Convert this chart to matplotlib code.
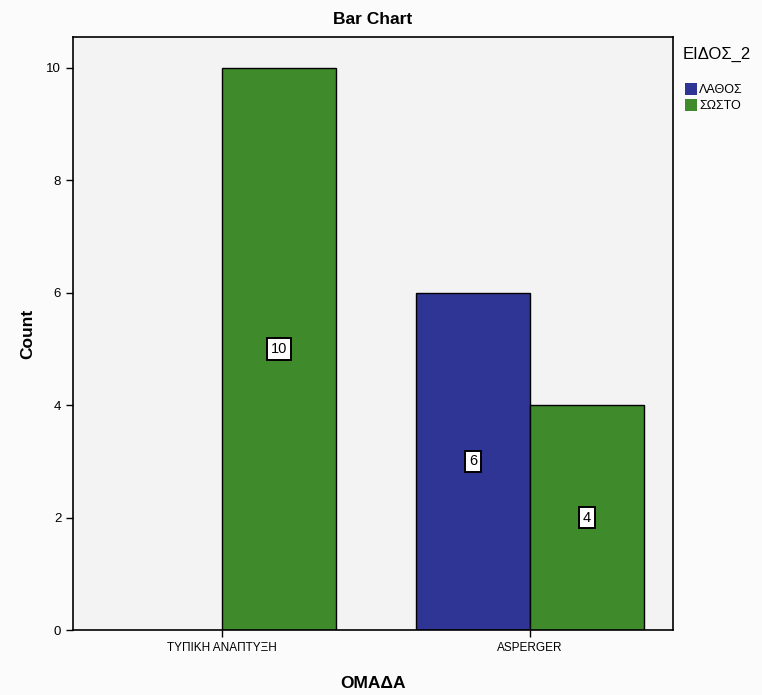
import numpy as np
import matplotlib.pyplot as plt
from matplotlib.patches import Patch

plt.rcParams['font.family'] = ['Liberation Sans', 'DejaVu Sans']

# Δεδομένα
groups = ['ΤΥΠΙΚΗ ΑΝΑΠΤΥΞΗ', 'ASPERGER']
categories = ['ΛΑΘΟΣ', 'ΣΩΣΤΟ']
lathos = [0, 6]
sosto = [10, 4]
colors = ['#2f3595', '#3f8a2b']

fig = plt.figure(figsize=(7.62, 6.95), dpi=100)
fig.patch.set_facecolor('#fbfbfb')
ax = fig.add_axes([0.0958, 0.0935, 0.7872, 0.8533])
ax.set_facecolor('#f3f3f3')

x = np.arange(len(groups))
w = 0.37
offsets = [-w / 2, w / 2]
for vals, c, off in zip([lathos, sosto], colors, offsets):
    for p, v in zip(x + off, vals):
        if v == 0:
            continue
        ax.bar(p, v, width=w, color=c, edgecolor='black', linewidth=1.0)
        ax.text(p, v / 2, str(v), ha='center', va='center', fontsize=10.5,
                bbox=dict(boxstyle='square,pad=0.25', facecolor='white',
                          edgecolor='black', linewidth=1.4))

ax.set_xlim(-0.484, 1.464)
ax.set_ylim(0, 10.55)
ax.set_xticks(x)
ax.set_xticklabels(groups, fontsize=8.5)
ax.set_yticks([0, 2, 4, 6, 8, 10])
ax.tick_params(axis='both', direction='out', length=5, width=1)
ax.tick_params(axis='y', labelsize=9.5)
for s in ax.spines.values():
    s.set_linewidth(1.2)

ax.set_title('Bar Chart', fontsize=12.5, fontweight='bold', pad=9)
ax.set_xlabel('ΟΜΑΔΑ', fontsize=12.5, fontweight='bold', labelpad=16)
ax.set_ylabel('Count', fontsize=12.5, fontweight='bold', labelpad=8)

# Υπόμνημα
fig.text(0.896, 0.921, 'ΕΙΔΟΣ_2', fontsize=12, va='center', ha='left')
handles = [Patch(facecolor=c, edgecolor='none') for c in colors]
fig.legend(handles, categories, loc='upper left',
           bbox_to_anchor=(0.889, 0.892), frameon=False, fontsize=9,
           handlelength=1.0, handleheight=1.1,
           handletextpad=0.15, labelspacing=0.25, borderpad=0.1)

plt.savefig('out.png', dpi=100, facecolor=fig.get_facecolor())
